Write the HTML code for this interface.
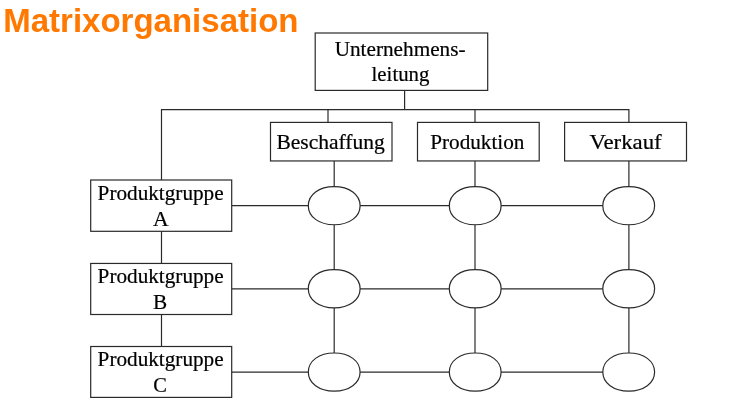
<!DOCTYPE html>
<html><head><meta charset="utf-8"><title>Matrixorganisation</title>
<style>
html,body{margin:0;padding:0;background:#fff;}
body{width:736px;height:410px;overflow:hidden;position:relative;}
svg{position:absolute;left:0;top:0;display:block;will-change:transform;}
.t{font-family:"Liberation Serif",serif;font-size:20.4px;fill:#000;stroke:#000;stroke-width:0.2px;}
.h{font-family:"Liberation Sans",sans-serif;font-weight:bold;font-size:33.4px;fill:#ff7800;}
.l{stroke:#2a2a2a;stroke-width:1.2;fill:none;}
.b{stroke:#2a2a2a;stroke-width:1.2;fill:#fff;}
</style></head>
<body>
<svg width="736" height="410" viewBox="0 0 736 410">
<rect width="736" height="410" fill="#fff"/>
<text class="h" x="3.2" y="31.8" textLength="295.3" lengthAdjust="spacingAndGlyphs">Matrixorganisation</text>

<!-- connectors -->
<g class="l">
<path d="M404.6 90.4 V109.7"/>
<path d="M161.5 180 V109.7 H628.9 V122.4"/>
<path d="M328 109.7 V122.4"/>
<path d="M475 109.7 V122.4"/>
<path d="M161.5 231 V263.4 M161.5 314.5 V346.5"/>
<path d="M334.2 161 V372"/>
<path d="M475 161 V372"/>
<path d="M628.9 161 V372"/>
<path d="M231.7 205.7 H628.7"/>
<path d="M231.7 288.8 H628.7"/>
<path d="M231.7 372.1 H628.7"/>
</g>

<!-- boxes -->
<g class="b">
<rect x="315.2" y="33" width="172.5" height="57.4"/>
<rect x="270.5" y="122.4" width="121.5" height="38.55"/>
<rect x="417.5" y="122.4" width="121.7" height="38.55"/>
<rect x="564.6" y="122.4" width="121.9" height="38.55"/>
<rect x="90.7" y="180" width="141" height="51.3"/>
<rect x="90.7" y="263.45" width="141" height="51.05"/>
<rect x="90.7" y="346.5" width="141" height="50.9"/>
<path d="M308.3 205.65C308.3 194.48 319.05 186.55 334.2 186.55S360.1 194.48 360.1 205.65S349.35 224.75 334.2 224.75S308.3 216.82 308.3 205.65Z"/>
<path d="M449.3 205.65C449.3 194.48 460.05 186.55 475.2 186.55S501.1 194.48 501.1 205.65S490.35 224.75 475.2 224.75S449.3 216.82 449.3 205.65Z"/>
<path d="M602.8 205.65C602.8 194.48 613.55 186.55 628.7 186.55S654.6 194.48 654.6 205.65S643.85 224.75 628.7 224.75S602.8 216.82 602.8 205.65Z"/>
<path d="M308.3 288.8C308.3 277.63 319.05 269.7 334.2 269.7S360.1 277.63 360.1 288.8S349.35 307.9 334.2 307.9S308.3 299.97 308.3 288.8Z"/>
<path d="M449.3 288.8C449.3 277.63 460.05 269.7 475.2 269.7S501.1 277.63 501.1 288.8S490.35 307.9 475.2 307.9S449.3 299.97 449.3 288.8Z"/>
<path d="M602.8 288.8C602.8 277.63 613.55 269.7 628.7 269.7S654.6 277.63 654.6 288.8S643.85 307.9 628.7 307.9S602.8 299.97 602.8 288.8Z"/>
<path d="M308.3 372.1C308.3 360.93 319.05 353 334.2 353S360.1 360.93 360.1 372.1S349.35 391.2 334.2 391.2S308.3 383.27 308.3 372.1Z"/>
<path d="M449.3 372.1C449.3 360.93 460.05 353 475.2 353S501.1 360.93 501.1 372.1S490.35 391.2 475.2 391.2S449.3 383.27 449.3 372.1Z"/>
<path d="M602.8 372.1C602.8 360.93 613.55 353 628.7 353S654.6 360.93 654.6 372.1S643.85 391.2 628.7 391.2S602.8 383.27 602.8 372.1Z"/>
</g>

<!-- labels -->
<g class="t">
<text x="334.7" y="56.1" textLength="130.8" lengthAdjust="spacingAndGlyphs">Unternehmens-</text>
<text x="371.6" y="80.9" textLength="57.8" lengthAdjust="spacingAndGlyphs">leitung</text>
<text x="276.4" y="148.5" textLength="108.4" lengthAdjust="spacingAndGlyphs">Beschaffung</text>
<text x="430.2" y="148.5" textLength="94.3" lengthAdjust="spacingAndGlyphs">Produktion</text>
<text x="589.5" y="148.5" textLength="72.2" lengthAdjust="spacingAndGlyphs">Verkauf</text>
<text x="97.6" y="199.6" textLength="126" lengthAdjust="spacingAndGlyphs">Produktgruppe</text>
<text x="153.1" y="225.6" textLength="15.6" lengthAdjust="spacingAndGlyphs">A</text>
<text x="97.6" y="282.5" textLength="126" lengthAdjust="spacingAndGlyphs">Produktgruppe</text>
<text x="153" y="308.5" textLength="14.2" lengthAdjust="spacingAndGlyphs">B</text>
<text x="97.6" y="365.7" textLength="126" lengthAdjust="spacingAndGlyphs">Produktgruppe</text>
<text x="153.3" y="391.5">C</text>
</g>
</svg>
</body></html>
